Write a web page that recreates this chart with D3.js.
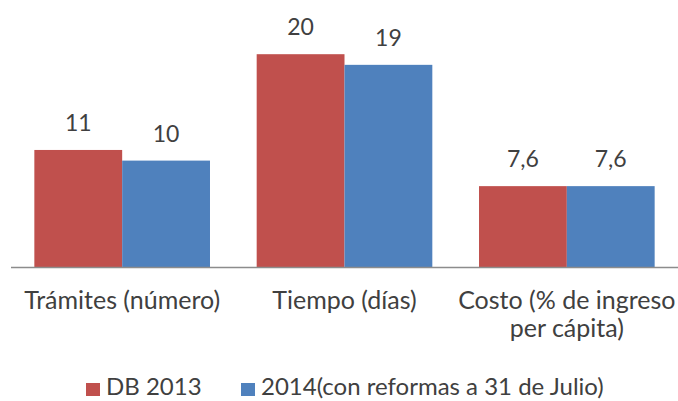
<!DOCTYPE html>
<html><head><meta charset="utf-8">
<script src="https://cdn.jsdelivr.net/npm/d3@7"></script>
<style>body{margin:0;background:#fff;overflow:hidden}svg{display:block}text{font-family:Lato,"Open Sans",sans-serif;fill:#404040}</style>
</head><body><div id="chart"></div>
<script>
const categories = [["Trámites (número)"], ["Tiempo (días)"], ["Costo (% de ingreso", "per cápita)"]];
const seriesNames = ["DB 2013", "2014(con reformas a 31 de Julio)"];
const db2013 = [11, 20, 7.6];
const y2014 = [10, 19, 7.6];
const labels2013 = ["11", "20", "7,6"];
const labels2014 = ["10", "19", "7,6"];
const colors = ["#C0504D", "#4F81BD"];

const W = 678, H = 401;
const svg = d3.select("#chart").append("svg").attr("width", W).attr("height", H);
const x0 = d3.scaleBand().domain(d3.range(categories.length)).range([11, 678]).paddingInner(0.21).paddingOuter(0.105);
const x1 = d3.scaleBand().domain([0, 1]).range([0, x0.bandwidth()]);
const y = d3.scaleLinear().domain([0, 25]).range([267, 1]);

const series = [db2013, y2014];
const slabels = [labels2013, labels2014];
series.forEach((vals, s) => {
  svg.selectAll(".b" + s).data(vals).enter().append("rect")
    .attr("x", (d, i) => x0(i) + x1(s))
    .attr("y", d => y(d))
    .attr("width", x1.bandwidth())
    .attr("height", d => y(0) - y(d))
    .attr("fill", colors[s]);
  svg.selectAll(".l" + s).data(vals).enter().append("text")
    .attr("x", (d, i) => x0(i) + x1(s) + x1.bandwidth() / 2)
    .attr("y", d => y(d) - 19)
    .attr("text-anchor", "middle")
    .attr("font-size", 23)
    .text((d, i) => slabels[s][i]);
});

svg.append("line").attr("x1", 11).attr("x2", 678).attr("y1", y(0) + 0.5).attr("y2", y(0) + 0.5)
  .attr("stroke", "#8c8c8c").attr("stroke-width", 1.5);

categories.forEach((lines, i) => {
  const t = svg.append("text").attr("text-anchor", "middle").attr("font-size", 25);
  lines.forEach((ln, k) => {
    t.append("tspan").attr("x", x0(i) + x0.bandwidth() / 2).attr("y", 309 + k * 28).text(ln);
  });
});

const legX = [86, 241];
seriesNames.forEach((n, s) => {
  svg.append("rect").attr("x", legX[s]).attr("y", 383).attr("width", 14).attr("height", 13).attr("fill", colors[s]);
  svg.append("text").attr("x", legX[s] + 20).attr("y", 395).attr("font-size", 24).text(n);
});
</script></body></html>
